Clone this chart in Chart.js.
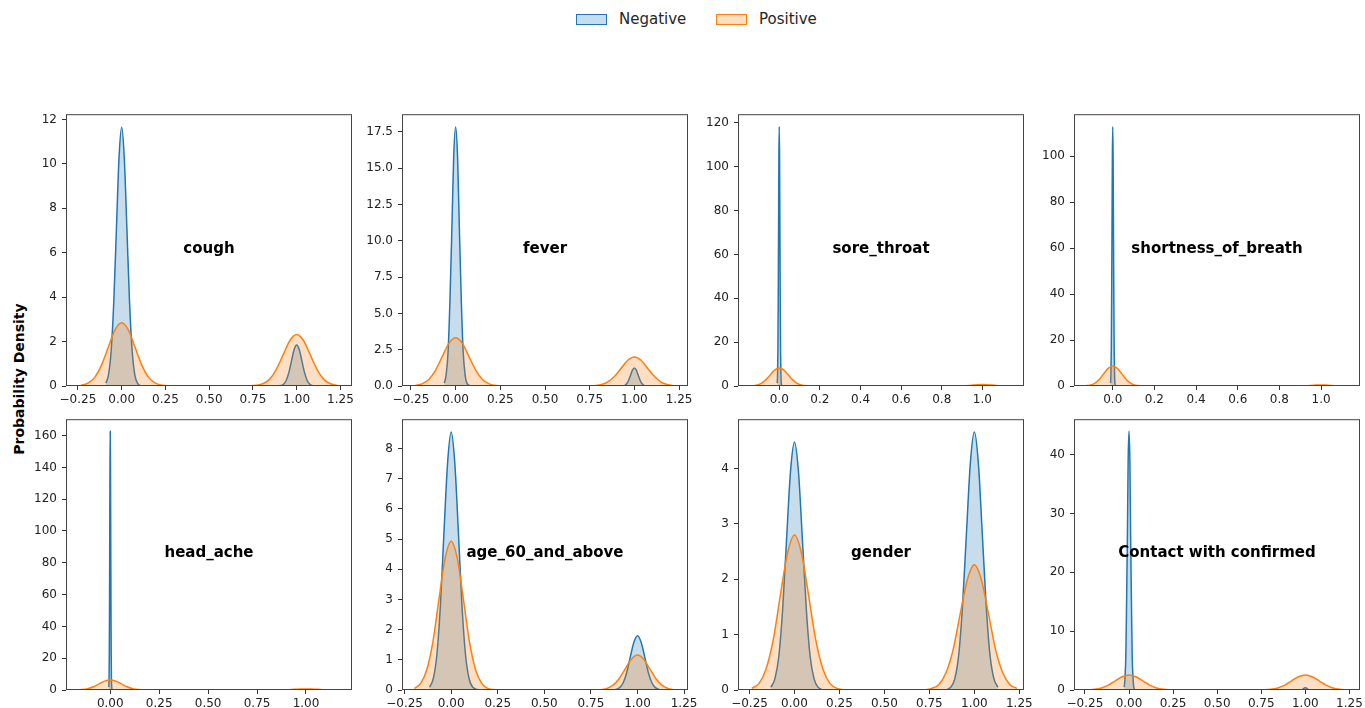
<!DOCTYPE html>
<html>
<head>
<meta charset="utf-8">
<script src="https://cdn.jsdelivr.net/npm/chart.js@4.4.1/dist/chart.umd.min.js"></script>
<style>
  html, body { margin: 0; padding: 0; background: #ffffff; }
  body { width: 1365px; height: 708px; position: relative; overflow: hidden; font-family: "DejaVu Sans", sans-serif; }
  canvas { position: absolute; }
  .lg-box { position: absolute; top: 14px; width: 31px; height: 11px; box-sizing: border-box; border: 1.5px solid; }
  .lg-text { position: absolute; top: 9px; height: 20px; line-height: 20px; font-size: 15px; color: #262626; white-space: nowrap; }
  #ytitle { position: absolute; left: -81px; top: 369px; width: 200px; height: 20px; line-height: 20px; text-align: center;
            font-weight: bold; font-size: 14px; color: #000; transform: rotate(-90deg); transform-origin: 50% 50%; white-space: nowrap; }
</style>
</head>
<body>
<div class="lg-box" style="left:576px;border-color:#1f77b4;background:rgba(31,119,180,0.25);"></div>
<div class="lg-text" style="left:619px;">Negative</div>
<div class="lg-box" style="left:716px;border-color:#ff7f0e;background:rgba(255,127,14,0.25);"></div>
<div class="lg-text" style="left:759px;">Positive</div>
<div id="ytitle">Probability Density</div>

<script>
// ---------------- data ----------------
const seriesNames = ['Negative', 'Positive'];
const panelNames = ['cough', 'fever', 'sore_throat', 'shortness_of_breath',
                    'head_ache', 'age_60_and_above', 'gender', 'Contact with confirmed'];

const coughNegX = [-0.09,-0.075,-0.06,-0.045,-0.03,-0.015,0,0.015,0.03,0.045,0.06,0.075,0.09,0.12,0.88,0.91,0.925,0.94,0.955,0.97,0.985,1,1.015,1.03,1.045,1.06,1.075,1.09];
const coughNegY = [0.13,0.51,1.58,3.78,7.07,10.28,11.65,10.28,7.07,3.78,1.58,0.51,0.13,0,0,0.02,0.08,0.25,0.60,1.12,1.63,1.85,1.63,1.12,0.60,0.25,0.08,0.02];
const coughPosX = [-0.231,-0.193,-0.154,-0.116,-0.077,-0.039,0,0.039,0.077,0.116,0.154,0.193,0.231,0.308,0.692,0.769,0.807,0.846,0.884,0.923,0.961,1,1.039,1.077,1.116,1.154,1.193,1.231];
const coughPosY = [0.03,0.13,0.39,0.93,1.73,2.52,2.85,2.52,1.73,0.93,0.39,0.13,0.03,0,0,0.03,0.10,0.31,0.75,1.41,2.05,2.32,2.05,1.41,0.75,0.31,0.10,0.03];

const feverNegX = [-0.063,-0.053,-0.042,-0.032,-0.021,-0.011,0,0.011,0.021,0.032,0.042,0.053,0.063,0.084,0.916,0.937,0.947,0.958,0.968,0.979,0.989,1,1.011,1.021,1.032,1.042,1.053,1.063];
const feverNegY = [0.20,0.78,2.41,5.79,10.81,15.73,17.83,15.73,10.81,5.79,2.41,0.78,0.20,0.01,0,0.01,0.05,0.17,0.40,0.75,1.09,1.24,1.09,0.75,0.40,0.17,0.05,0.01];
const feverPosX = [-0.225,-0.188,-0.15,-0.113,-0.075,-0.038,0,0.038,0.075,0.113,0.15,0.188,0.225,0.3,0.7,0.775,0.813,0.85,0.888,0.925,0.963,1,1.038,1.075,1.113,1.15,1.188,1.225];
const feverPosY = [0.04,0.15,0.45,1.08,2.02,2.94,3.33,2.94,2.02,1.08,0.45,0.15,0.04,0,0,0.02,0.09,0.27,0.65,1.21,1.77,2.0,1.77,1.21,0.65,0.27,0.09,0.02];

const soreNegX = [-0.0099,-0.0083,-0.0066,-0.005,-0.0033,-0.0017,0,0.0017,0.0033,0.005,0.0066,0.0083,0.0099,0.0132];
const soreNegY = [1.31,5.19,16.01,38.41,71.75,104.4,118.3,104.4,71.75,38.41,16.01,5.19,1.31,0.04];
const sorePosX = [-0.135,-0.113,-0.09,-0.068,-0.045,-0.023,0,0.023,0.045,0.068,0.09,0.113,0.135,0.18,0.82,0.865,0.888,0.91,0.933,0.955,0.978,1,1.023,1.045,1.068,1.09,1.113,1.135];
const sorePosY = [0.09,0.36,1.11,2.66,4.97,7.24,8.2,7.24,4.97,2.66,1.11,0.36,0.09,0,0,0.01,0.03,0.09,0.23,0.42,0.62,0.7,0.62,0.42,0.23,0.09,0.03,0.01];

const breathNegX = [-0.0105,-0.0088,-0.007,-0.0053,-0.0035,-0.0018,0,0.0018,0.0035,0.0053,0.007,0.0088,0.0105,0.014];
const breathNegY = [1.25,4.95,15.26,36.63,68.41,99.55,112.8,99.55,68.41,36.63,15.26,4.95,1.25,0.03];
const breathPosX = [-0.131,-0.109,-0.087,-0.065,-0.044,-0.022,0,0.022,0.044,0.065,0.087,0.109,0.131,0.174,0.826,0.869,0.891,0.913,0.935,0.956,0.978,1,1.022,1.044,1.065,1.087,1.109,1.131];
const breathPosY = [0.10,0.38,1.18,2.82,5.28,7.68,8.7,7.68,5.28,2.82,1.18,0.38,0.10,0,0,0,0.02,0.06,0.15,0.27,0.40,0.45,0.40,0.27,0.15,0.06,0.02,0];

const headNegX = [-0.0074,-0.0061,-0.0049,-0.0037,-0.0025,-0.0012,0,0.0012,0.0025,0.0037,0.0049,0.0061,0.0074,0.0098];
const headNegY = [1.81,7.14,22.01,52.83,98.68,143.58,162.7,143.58,98.68,52.83,22.01,7.14,1.81,0.05];
const headPosX = [-0.171,-0.143,-0.114,-0.086,-0.057,-0.029,0,0.029,0.057,0.086,0.114,0.143,0.171,0.228,0.772,0.829,0.857,0.886,0.914,0.943,0.971,1,1.029,1.057,1.086,1.114,1.143,1.171];
const headPosY = [0.07,0.28,0.85,2.05,3.82,5.56,6.3,5.56,3.82,2.05,0.85,0.28,0.07,0,0,0.01,0.03,0.09,0.23,0.42,0.62,0.7,0.62,0.42,0.23,0.09,0.03,0.01];

const ageNegX = [-0.116,-0.096,-0.077,-0.058,-0.039,-0.019,0,0.019,0.039,0.058,0.077,0.096,0.116,0.154,0.846,0.884,0.904,0.923,0.942,0.961,0.981,1,1.019,1.039,1.058,1.077,1.096,1.116];
const ageNegY = [0.09,0.38,1.16,2.78,5.19,7.55,8.55,7.55,5.19,2.78,1.16,0.38,0.09,0,0,0.02,0.08,0.24,0.58,1.09,1.59,1.8,1.59,1.09,0.58,0.24,0.08,0.02];
const agePosX = [-0.197,-0.164,-0.131,-0.098,-0.066,-0.033,0,0.033,0.066,0.098,0.131,0.164,0.197,0.262,0.738,0.803,0.836,0.869,0.902,0.934,0.967,1,1.033,1.066,1.098,1.131,1.164,1.197];
const agePosY = [0.05,0.22,0.67,1.60,2.99,4.35,4.93,4.35,2.99,1.60,0.67,0.22,0.05,0,0,0.01,0.05,0.16,0.38,0.70,1.02,1.16,1.02,0.70,0.38,0.16,0.05,0.01];

const genderNegX = [-0.131,-0.109,-0.087,-0.066,-0.044,-0.022,0,0.022,0.044,0.066,0.087,0.109,0.131,0.175,0.825,0.869,0.891,0.913,0.934,0.956,0.978,1,1.022,1.044,1.066,1.087,1.109,1.131];
const genderNegY = [0.05,0.20,0.61,1.45,2.72,3.95,4.48,3.95,2.72,1.45,0.61,0.20,0.05,0,0,0.05,0.20,0.63,1.51,2.83,4.11,4.66,4.11,2.83,1.51,0.63,0.20,0.05];
const genderPosX = [-0.237,-0.197,-0.158,-0.118,-0.079,-0.039,0,0.039,0.079,0.118,0.158,0.197,0.237,0.316,0.684,0.763,0.803,0.842,0.882,0.921,0.961,1,1.039,1.079,1.118,1.158,1.197,1.237];
const genderPosY = [0.03,0.12,0.38,0.91,1.70,2.47,2.80,2.47,1.70,0.91,0.38,0.12,0.03,0,0,0.03,0.10,0.31,0.73,1.37,1.99,2.26,1.99,1.37,0.73,0.31,0.10,0.03];

const contactNegX = [-0.027,-0.023,-0.018,-0.014,-0.009,-0.005,0,0.005,0.009,0.014,0.018,0.023,0.027,0.036,0.964,0.973,0.977,0.982,0.986,0.991,0.995,1,1.005,1.009,1.014,1.018,1.023,1.027];
const contactNegY = [0.49,1.93,5.95,14.28,26.67,38.8,43.97,38.8,26.67,14.28,5.95,1.93,0.49,0.01,0,0,0.02,0.05,0.13,0.24,0.35,0.4,0.35,0.24,0.13,0.05,0.02,0];
const contactPosX = [-0.234,-0.195,-0.156,-0.117,-0.078,-0.039,0,0.039,0.078,0.117,0.156,0.195,0.234,0.312,0.688,0.766,0.805,0.844,0.883,0.922,0.961,1,1.039,1.078,1.117,1.156,1.195,1.234];
const contactPosY = [0.03,0.11,0.35,0.83,1.55,2.25,2.55,2.25,1.55,0.83,0.35,0.11,0.03,0,0,0.03,0.11,0.35,0.83,1.55,2.25,2.55,2.25,1.55,0.83,0.35,0.11,0.03];

// axis limits
const xMins = [-0.318, -0.300, -0.203, -0.186, -0.226, -0.264, -0.314, -0.312];
const xMaxs = [ 1.316,  1.300,  1.205,  1.187,  1.235,  1.271,  1.276,  1.310];
const yMaxs = [12.24, 18.72, 124.0, 118.3, 170.3, 8.97, 4.89, 46.0];

// tick values and labels
const xTicksQuarter = [-0.25, 0, 0.25, 0.5, 0.75, 1, 1.25];
const xLabelsQuarter = ['\u22120.25', '0.00', '0.25', '0.50', '0.75', '1.00', '1.25'];
const xTicksQuarterPos = [0, 0.25, 0.5, 0.75, 1];
const xLabelsQuarterPos = ['0.00', '0.25', '0.50', '0.75', '1.00'];
const xTicksTenths = [0, 0.2, 0.4, 0.6, 0.8, 1];
const xLabelsTenths = ['0.0', '0.2', '0.4', '0.6', '0.8', '1.0'];

const yTicksCough = [0, 2, 4, 6, 8, 10, 12];
const yLabelsCough = ['0', '2', '4', '6', '8', '10', '12'];
const yTicksFever = [0, 2.5, 5, 7.5, 10, 12.5, 15, 17.5];
const yLabelsFever = ['0.0', '2.5', '5.0', '7.5', '10.0', '12.5', '15.0', '17.5'];
const yTicksSore = [0, 20, 40, 60, 80, 100, 120];
const yLabelsSore = ['0', '20', '40', '60', '80', '100', '120'];
const yTicksBreath = [0, 20, 40, 60, 80, 100];
const yLabelsBreath = ['0', '20', '40', '60', '80', '100'];
const yTicksHead = [0, 20, 40, 60, 80, 100, 120, 140, 160];
const yLabelsHead = ['0', '20', '40', '60', '80', '100', '120', '140', '160'];
const yTicksAge = [0, 1, 2, 3, 4, 5, 6, 7, 8];
const yLabelsAge = ['0', '1', '2', '3', '4', '5', '6', '7', '8'];
const yTicksGender = [0, 1, 2, 3, 4];
const yLabelsGender = ['0', '1', '2', '3', '4'];
const yTicksContact = [0, 10, 20, 30, 40];
const yLabelsContact = ['0', '10', '20', '30', '40'];

// ---------------- assembly ----------------
const negX = [coughNegX, feverNegX, soreNegX, breathNegX, headNegX, ageNegX, genderNegX, contactNegX];
const negY = [coughNegY, feverNegY, soreNegY, breathNegY, headNegY, ageNegY, genderNegY, contactNegY];
const posX = [coughPosX, feverPosX, sorePosX, breathPosX, headPosX, agePosX, genderPosX, contactPosX];
const posY = [coughPosY, feverPosY, sorePosY, breathPosY, headPosY, agePosY, genderPosY, contactPosY];
const xTickSets = [[xTicksQuarter, xLabelsQuarter], [xTicksQuarter, xLabelsQuarter], [xTicksTenths, xLabelsTenths], [xTicksTenths, xLabelsTenths],
                   [xTicksQuarterPos, xLabelsQuarterPos], [xTicksQuarter, xLabelsQuarter], [xTicksQuarter, xLabelsQuarter], [xTicksQuarter, xLabelsQuarter]];
const yTickSets = [[yTicksCough, yLabelsCough], [yTicksFever, yLabelsFever], [yTicksSore, yLabelsSore], [yTicksBreath, yLabelsBreath],
                   [yTicksHead, yLabelsHead], [yTicksAge, yLabelsAge], [yTicksGender, yLabelsGender], [yTicksContact, yLabelsContact]];

const colLefts = [66, 402, 738, 1074];
const rowTops = [114, 419];
const rowHeights = [272, 271];
const PANEL_W = 286, PAD_L = 60, PAD_T = 12, PAD_R = 22, PAD_B = 30;

const FONT = '"DejaVu Sans", sans-serif';

const panelTextPlugin = {
  id: 'panelText',
  afterDatasetsDraw(chart, args, opts) {
    const a = chart.chartArea, ctx = chart.ctx;
    ctx.save();
    ctx.font = 'bold 15px ' + FONT;
    ctx.fillStyle = '#000';
    ctx.textAlign = 'center';
    ctx.textBaseline = 'middle';
    ctx.fillText(opts.text, (a.left + a.right) / 2, (a.top + a.bottom) / 2 - 1);
    ctx.restore();
  }
};
const framePlugin = {
  id: 'frame',
  afterDraw(chart) {
    const a = chart.chartArea, ctx = chart.ctx;
    ctx.save();
    ctx.strokeStyle = '#444';
    ctx.lineWidth = 1;
    ctx.strokeRect(a.left + 0.5, a.top + 0.5, a.right - a.left - 1, a.bottom - a.top - 1);
    ctx.restore();
  }
};

function toPoints(xs, ys) { return xs.map((x, i) => ({ x: x, y: ys[i] })); }

for (let p = 0; p < 8; p++) {
  const r = Math.floor(p / 4), c = p % 4;
  const ph = rowHeights[r];
  const cv = document.createElement('canvas');
  const w = PAD_L + PANEL_W + PAD_R, h = PAD_T + ph + PAD_B;
  cv.width = w; cv.height = h;
  cv.style.width = w + 'px'; cv.style.height = h + 'px';
  cv.style.left = (colLefts[c] - PAD_L) + 'px';
  cv.style.top = (rowTops[r] - PAD_T) + 'px';
  document.body.appendChild(cv);

  const [xt, xl] = xTickSets[p];
  const [yt, yl] = yTickSets[p];

  new Chart(cv, {
    type: 'line',
    data: {
      datasets: [
        { label: seriesNames[0], data: toPoints(negX[p], negY[p]), borderColor: '#1f77b4', backgroundColor: 'rgba(31,119,180,0.25)',
          borderWidth: 1.5, pointRadius: 0, fill: 'origin', cubicInterpolationMode: 'monotone', order: 2 },
        { label: seriesNames[1], data: toPoints(posX[p], posY[p]), borderColor: '#ff7f0e', backgroundColor: 'rgba(255,127,14,0.25)',
          borderWidth: 1.5, pointRadius: 0, fill: 'origin', cubicInterpolationMode: 'monotone', order: 1 }
      ]
    },
    options: {
      responsive: false,
      animation: false,
      devicePixelRatio: 1,
      layout: { padding: { left: 0, top: PAD_T, right: PAD_R, bottom: 0 } },
      plugins: {
        legend: { display: false },
        tooltip: { enabled: false },
        panelText: { text: panelNames[p] }
      },
      scales: {
        x: {
          type: 'linear', min: xMins[p], max: xMaxs[p], bounds: 'data',
          afterFit: s => { s.height = PAD_B; },
          afterBuildTicks: s => { s.ticks = xt.map(v => ({ value: v })); },
          grid: { display: true, drawOnChartArea: false, drawTicks: true, tickLength: 4, color: '#333', lineWidth: 1 },
          border: { display: false },
          ticks: { autoSkip: false, maxRotation: 0, padding: 3, color: '#222', font: { family: FONT, size: 12 },
                   callback: (v, i) => xl[i] }
        },
        y: {
          type: 'linear', min: 0, max: yMaxs[p], bounds: 'data',
          afterFit: s => { s.width = PAD_L; },
          afterBuildTicks: s => { s.ticks = yt.map(v => ({ value: v })); },
          grid: { display: true, drawOnChartArea: false, drawTicks: true, tickLength: 4, color: '#333', lineWidth: 1 },
          border: { display: false },
          ticks: { autoSkip: false, padding: 5, color: '#222', font: { family: FONT, size: 12 },
                   callback: (v, i) => yl[i] }
        }
      }
    },
    plugins: [panelTextPlugin, framePlugin]
  });
}
</script>
</body>
</html>
